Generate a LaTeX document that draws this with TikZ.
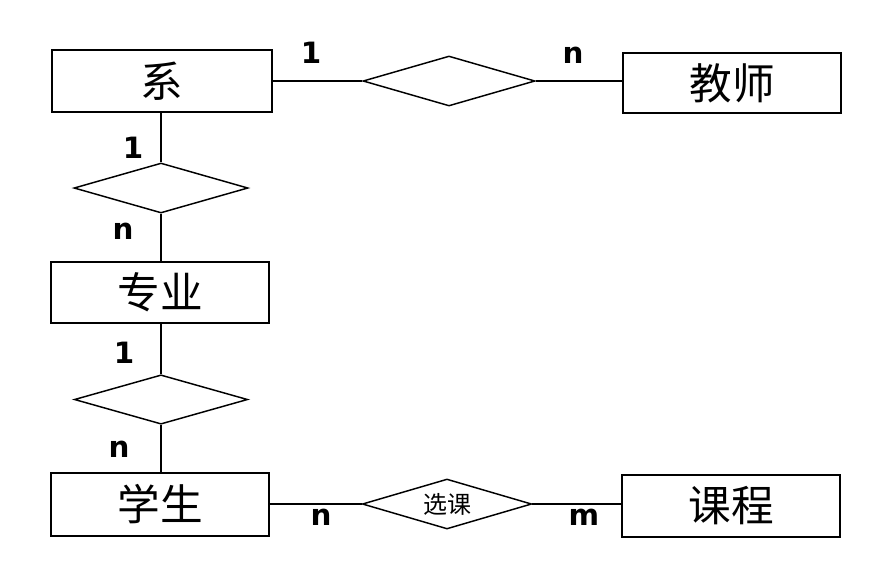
\documentclass[tikz,border=0pt]{standalone}
\usepackage{fontspec}
\newfontfamily\cjk{Noto Sans CJK SC}[BoldFont={Noto Sans CJK SC}]
\newfontfamily\lbl{DejaVu Sans}
\usetikzlibrary{shapes.geometric}
\tikzset{
  ent/.style={draw, line width=1.3pt, rectangle, inner sep=0pt, font=\cjk\fontsize{32}{32}\selectfont},
  rel/.style={draw, line width=1.1pt, diamond, inner sep=0pt, aspect=3.4, font=\cjk\fontsize{18}{18}\selectfont},
  card/.style={anchor=base, inner sep=0pt, font=\lbl\bfseries\fontsize{22}{22}\selectfont},
  conn/.style={line width=1.1pt}
}
\begin{document}
\begin{tikzpicture}[x=0.75pt,y=-0.75pt]
\useasboundingbox (0,0) rectangle (887,562);
% entities
\node[ent, minimum width=165pt, minimum height=46.5pt] (xi) at (162,81) {系};
\node[ent, minimum width=163.5pt, minimum height=45pt] (js) at (732,83) {教师};
\node[ent, minimum width=164pt, minimum height=46pt] (zy) at (160,292.5) {专业};
\node[ent, minimum width=164pt, minimum height=47pt] (xs) at (160,504.5) {学生};
\node[ent, minimum width=164pt, minimum height=47pt] (kc) at (731,506) {课程};
% relationships
\node[rel, minimum width=129pt, minimum height=37.5pt] (r1) at (449,81) {};
\node[rel, minimum width=130.5pt, minimum height=37.5pt] (r2) at (161,188) {};
\node[rel, minimum width=130pt, minimum height=37pt] (r3) at (161,399.5) {};
\node[rel, minimum width=127pt, minimum height=37.5pt] (r4) at (447,504) {选课};
% connectors
\draw[conn] (xi.east |- r1.west) -- (r1.west);
\draw[conn] (r1.east) -- (js.west |- r1.east);
\draw[conn] (r2.north) -- (xi.south -| r2.north);
\draw[conn] (r2.south) -- (zy.north -| r2.south);
\draw[conn] (r3.north) -- (zy.south -| r3.north);
\draw[conn] (r3.south) -- (xs.north -| r3.south);
\draw[conn] (xs.east |- r4.west) -- (r4.west);
\draw[conn] (r4.east) -- (kc.west |- r4.east);
% cardinalities
\node[card] (c1) at (311,63) {1};
\node[card] (c2) at (573,63) {n};
\node[card] (c3) at (133,158) {1};
\node[card] (c4) at (123,239) {n};
\node[card] (c5) at (124,363) {1};
\node[card] (c6) at (119,457) {n};
\node[card] (c7) at (321,525) {n};
\node[card] (c8) at (584,525) {m};
\end{tikzpicture}
\end{document}
